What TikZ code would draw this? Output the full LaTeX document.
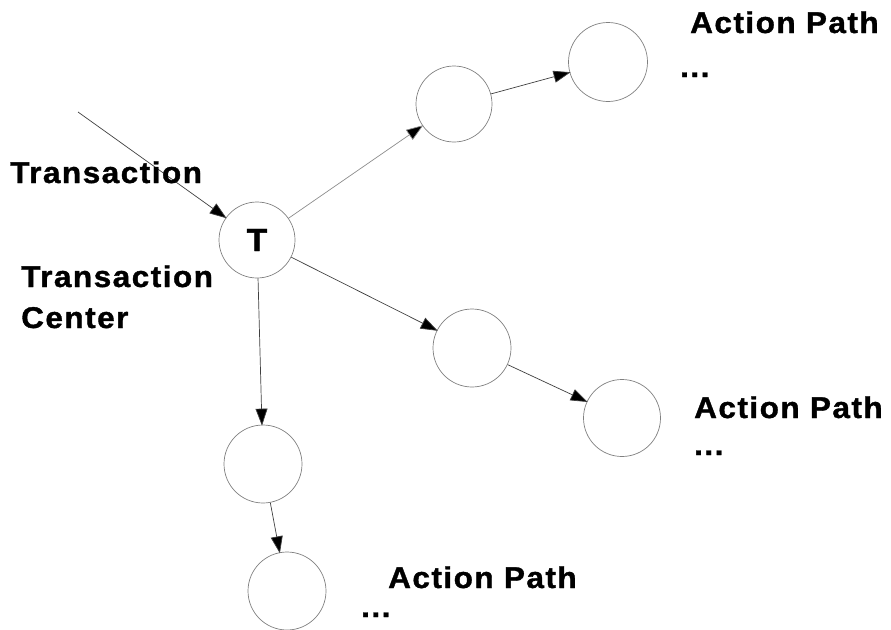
\documentclass[tikz,border=0pt]{standalone}
\usepackage{fontspec}
\setmainfont{Liberation Sans}
\newfontfamily\labelfont[FakeStretch=1.05,LetterSpace=5,FakeBold=1.2]{Liberation Sans Bold}
\usetikzlibrary{arrows.meta}
\begin{document}
\begin{tikzpicture}[x=1pt,y=-1pt,
  state/.style={circle,draw=black!50,line width=0.7pt,inner sep=0pt},
  flow/.style={draw=black!75,line width=0.7pt,-{Triangle[length=17pt,width=12pt,fill=black]},shorten >=-1pt},
  lbl/.style={anchor=base west,inner sep=0pt,font=\labelfont\fontsize{30}{34}\selectfont}]
\useasboundingbox (0,0) rectangle (891,629);
% transaction center and the three action paths
\node[state,minimum size=76pt,font=\labelfont\fontsize{32}{36}\selectfont] (T) at (257,240) {T};
\node[state,minimum size=76pt] (a1) at (454,104) {};
\node[state,minimum size=79pt] (a2) at (608,62) {};
\node[state,minimum size=78pt] (b1) at (472,348) {};
\node[state,minimum size=77pt] (b2) at (622,418) {};
\node[state,minimum size=78pt] (c1) at (263,464) {};
\node[state,minimum size=78pt] (c2) at (287,591) {};
\coordinate (in) at (78,112);
% connectors
\draw[flow] (in) -- (T);
\draw[flow,draw=black!45] (T) -- (a1);
\draw[flow] (a1) -- (a2);
\draw[flow] (T) -- (b1);
\draw[flow] (b1) -- (b2);
\draw[flow] (T) -- (c1);
\draw[flow] (c1) -- (c2);
% labels
\node[lbl] (l1) at (10,183) {Transaction};
\node[lbl] (l2) at (21,287) {Transaction};
\node[lbl] (l3) at (21,328) {Center};
\node[lbl] (p1) at (690,33) {Action Path};
\node[lbl] (d1) at (680,77) {...};
\node[lbl] (p2) at (694,418) {Action Path};
\node[lbl] (d2) at (694,455) {...};
\node[lbl] (p3) at (388,588) {Action Path};
\node[lbl] (d3) at (361,617) {...};
\end{tikzpicture}
\end{document}
